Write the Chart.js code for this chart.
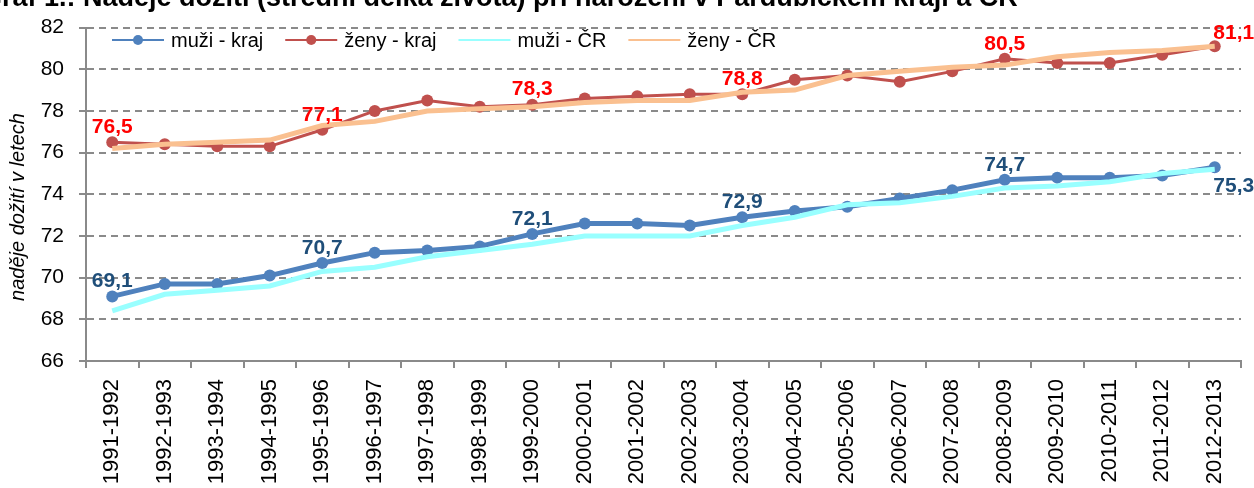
<!DOCTYPE html>
<html>
<head>
<meta charset="utf-8">
<script src="https://cdn.jsdelivr.net/npm/chart.js@4.4.1/dist/chart.umd.min.js"></script>
<style>
  html, body { margin: 0; padding: 0; background: #fff; overflow: hidden; }
  #wrap { width: 1254px; height: 488px; }
</style>
</head>
<body>
<div id="wrap"><canvas id="lifeChart" width="1254" height="488"></canvas></div>
<script>
const titleText = "Graf 1.: Naděje dožití (střední délka života) při narození v Pardubickém kraji a ČR";
const yTitleText = "naděje dožití v letech";

const periods = [
  "1991-1992", "1992-1993", "1993-1994", "1994-1995", "1995-1996", "1996-1997",
  "1997-1998", "1998-1999", "1999-2000", "2000-2001", "2001-2002", "2002-2003",
  "2003-2004", "2004-2005", "2005-2006", "2006-2007", "2007-2008", "2008-2009",
  "2009-2010", "2010-2011", "2011-2012", "2012-2013"
];

const muziKraj = [69.1, 69.7, 69.7, 70.1, 70.7, 71.2, 71.3, 71.5, 72.1, 72.6, 72.6,
                  72.5, 72.9, 73.2, 73.4, 73.8, 74.2, 74.7, 74.8, 74.8, 74.9, 75.3];
const zenyKraj = [76.5, 76.4, 76.3, 76.3, 77.1, 78.0, 78.5, 78.2, 78.3, 78.6, 78.7,
                  78.8, 78.8, 79.5, 79.7, 79.4, 79.9, 80.5, 80.3, 80.3, 80.7, 81.1];
const muziCR   = [68.4, 69.2, 69.4, 69.6, 70.3, 70.5, 71.0, 71.3, 71.6, 72.0, 72.0,
                  72.0, 72.5, 72.9, 73.5, 73.6, 73.9, 74.3, 74.4, 74.6, 75.0, 75.2];
const zenyCR   = [76.2, 76.4, 76.5, 76.6, 77.3, 77.5, 78.0, 78.1, 78.2, 78.4, 78.5,
                  78.5, 78.9, 79.0, 79.7, 79.9, 80.1, 80.2, 80.6, 80.8, 80.9, 81.1];

// which points get a value label
const labelIdx = [0, 4, 8, 12, 17, 21];

const yMin = 66, yMax = 82, yStep = 2;
const gridGrey = "#8a8a8a";
const fontFam = "'Liberation Sans', Arial, sans-serif";

function fmt(v) {
  return v.toFixed(1).replace(".", ",");
}

// title sits above the picture, only its lower edge shows
const titlePlugin = {
  id: "cutTitle",
  afterDraw(chart) {
    const ctx = chart.ctx;
    ctx.save();
    ctx.font = "bold 27px " + fontFam;
    ctx.fillStyle = "#000";
    ctx.textBaseline = "alphabetic";
    ctx.fillText(titleText, -19, 6);
    ctx.restore();
  }
};

// y axis title, placed a bit lower than chart.js would centre it
const yTitlePlugin = {
  id: "yTitle",
  afterDraw(chart) {
    const ctx = chart.ctx;
    ctx.save();
    ctx.translate(18, 207);
    ctx.rotate(-Math.PI / 2);
    ctx.font = "italic 20px " + fontFam;
    ctx.fillStyle = "#000";
    ctx.textAlign = "center";
    ctx.textBaseline = "middle";
    ctx.fillText(yTitleText, 0, 0);
    ctx.restore();
  }
};

// legend drawn inside the plot, line + marker like the original
const legendPlugin = {
  id: "innerLegend",
  afterDraw(chart) {
    const ctx = chart.ctx;
    const y = 40;
    let x = 112;
    ctx.save();
    ctx.font = "20px " + fontFam;
    ctx.textBaseline = "middle";
    chart.data.datasets.forEach(ds => {
      ctx.strokeStyle = ds.borderColor;
      ctx.lineWidth = 2;
      ctx.beginPath();
      ctx.moveTo(x, y);
      ctx.lineTo(x + 52, y);
      ctx.stroke();
      if (ds.pointRadius > 0) {
        ctx.fillStyle = ds.borderColor;
        ctx.beginPath();
        ctx.arc(x + 26, y, 5, 0, Math.PI * 2);
        ctx.fill();
      }
      ctx.fillStyle = "#000";
      ctx.fillText(ds.label, x + 59, y + 1);
      x += 59 + ctx.measureText(ds.label).width + 22;
    });
    ctx.restore();
  }
};

// value labels on selected points of the kraj series
const valuePlugin = {
  id: "valueLabels",
  afterDatasetsDraw(chart) {
    const ctx = chart.ctx;
    ctx.save();
    ctx.font = "bold 21px " + fontFam;
    ctx.textAlign = "center";
    ctx.textBaseline = "middle";
    [0, 1].forEach(di => {
      const ds = chart.data.datasets[di];
      const meta = chart.getDatasetMeta(di);
      ctx.fillStyle = di === 0 ? "#1f4e79" : "#ff0000";
      labelIdx.forEach(i => {
        const pt = meta.data[i];
        let dx = 0, dy = -15;
        if (i === labelIdx[labelIdx.length - 1]) {
          dx = 19;
          dy = di === 0 ? 19 : -13;
        }
        ctx.fillText(fmt(ds.data[i]), pt.x + dx, pt.y + dy);
      });
    });
    ctx.restore();
  }
};

const ctx = document.getElementById("lifeChart").getContext("2d");

new Chart(ctx, {
  type: "line",
  data: {
    labels: periods,
    datasets: [
      {
        label: "muži - kraj",
        data: muziKraj,
        borderColor: "#4f81bd",
        backgroundColor: "#4f81bd",
        borderWidth: 5,
        pointRadius: 6,
        pointBorderWidth: 0,
        tension: 0,
        order: 2
      },
      {
        label: "ženy - kraj",
        data: zenyKraj,
        borderColor: "#c0504d",
        backgroundColor: "#c0504d",
        borderWidth: 3,
        pointRadius: 6,
        pointBorderWidth: 0,
        tension: 0,
        order: 2
      },
      {
        label: "muži - ČR",
        data: muziCR,
        borderColor: "#99ffff",
        backgroundColor: "#99ffff",
        borderWidth: 5,
        pointRadius: 0,
        tension: 0,
        order: 1
      },
      {
        label: "ženy - ČR",
        data: zenyCR,
        borderColor: "#fac090",
        backgroundColor: "#fac090",
        borderWidth: 5,
        pointRadius: 0,
        tension: 0,
        order: 1
      }
    ]
  },
  options: {
    responsive: false,
    animation: false,
    layout: { padding: { top: 23, right: 13, left: 0, bottom: 0 } },
    plugins: {
      legend: { display: false },
      tooltip: { enabled: false }
    },
    scales: {
      x: {
        offset: true,
        grid: {
          offset: true,
          drawOnChartArea: false,
          color: gridGrey,
          lineWidth: 2,
          tickLength: 7
        },
        border: { color: gridGrey, width: 2 },
        ticks: {
          autoSkip: false,
          minRotation: 90,
          maxRotation: 90,
          padding: 11,
          color: "#000",
          font: { family: fontFam, size: 22 }
        },
        afterFit(scale) { scale.height = 127; }
      },
      y: {
        min: yMin,
        max: yMax,
        grid: {
          color: gridGrey,
          lineWidth: 2,
          tickLength: 7,
          tickColor: gridGrey
        },
        border: { color: gridGrey, width: 2, dash: [7, 5] },
        ticks: {
          stepSize: yStep,
          padding: 15,
          color: "#000",
          font: { family: fontFam, size: 21 }
        },
        afterFit(scale) { scale.width = 86; }
      }
    }
  },
  plugins: [valuePlugin, legendPlugin, titlePlugin, yTitlePlugin]
});
</script>
</body>
</html>
